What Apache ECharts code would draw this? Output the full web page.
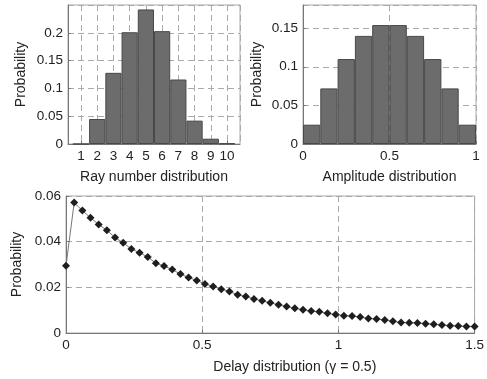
<!DOCTYPE html>
<html>
<head>
<meta charset="utf-8">
<script src="https://cdn.jsdelivr.net/npm/echarts@6/dist/echarts.min.js"></script>
<style>
  html, body { margin: 0; padding: 0; background: #fff; }
  #chart { width: 487px; height: 379px; }
</style>
</head>
<body>
<div id="chart"></div>
<script>
// ray number histogram
const rayNumbers = [1, 2, 3, 4, 5, 6, 7, 8, 9, 10]
const rayProb = [0, 0.045, 0.128, 0.201, 0.242, 0.203, 0.116, 0.042, 0.0095, 0.001]

// amplitude histogram (bin centres)
const ampBins = [0.05, 0.15, 0.25, 0.35, 0.45, 0.55, 0.65, 0.75, 0.85, 0.95]
const ampProb = [0.025, 0.072, 0.110, 0.140, 0.154, 0.154, 0.140, 0.110, 0.072, 0.025]

// delay distribution, sampled every 0.03
const delayX = [
  0, 0.03, 0.06, 0.09, 0.12, 0.15, 0.18, 0.21, 0.24, 0.27,
  0.30, 0.33, 0.36, 0.39, 0.42, 0.45, 0.48, 0.51, 0.54, 0.57,
  0.60, 0.63, 0.66, 0.69, 0.72, 0.75, 0.78, 0.81, 0.84, 0.87,
  0.90, 0.93, 0.96, 0.99, 1.02, 1.05, 1.08, 1.11, 1.14, 1.17,
  1.20, 1.23, 1.26, 1.29, 1.32, 1.35, 1.38, 1.41, 1.44, 1.47, 1.50,
]
const delayProb = [
  0.0294, 0.0571, 0.0536, 0.0505, 0.0475, 0.0450, 0.0418, 0.0395, 0.0368, 0.0352,
  0.0333, 0.0306, 0.0293, 0.0278, 0.0258, 0.0243, 0.0230, 0.0215, 0.0204, 0.0192,
  0.0182, 0.0167, 0.0160, 0.0149, 0.0141, 0.0132, 0.0124, 0.0116, 0.0108, 0.0102,
  0.0096, 0.0093, 0.0086, 0.0081, 0.0076, 0.0074, 0.0070, 0.0064, 0.0061, 0.0057,
  0.0051, 0.0046, 0.0045, 0.0044, 0.0041, 0.0038, 0.0035, 0.0032, 0.0031, 0.0029, 0.0028,
]

const font = 'Liberation Sans, Arial, sans-serif'
const textColor = '#222'
const dashed = { color: '#aaa', type: [6, 4], width: 1 }

const labelStyle = { color: textColor, fontSize: 13.5, fontFamily: font }
const nameStyle = { color: textColor, fontSize: 14, fontFamily: font }

function xAxisBase(extra) {
  return Object.assign({
    type: 'value',
    nameLocation: 'middle',
    nameTextStyle: nameStyle,
    axisLine: { show: true, lineStyle: { color: '#777' } },
    axisTick: { show: true, inside: true, length: 3, lineStyle: { color: '#777' } },
    axisLabel: Object.assign({ margin: 5 }, labelStyle),
    splitLine: { show: true, lineStyle: dashed },
  }, extra)
}

function yAxisBase(extra) {
  return Object.assign({
    type: 'value',
    name: 'Probability',
    nameLocation: 'middle',
    nameRotate: 90,
    nameTextStyle: nameStyle,
    axisLine: { show: true, lineStyle: { color: '#777' } },
    axisTick: { show: true, inside: true, length: 3, lineStyle: { color: '#777' } },
    axisLabel: Object.assign({ margin: 5 }, labelStyle),
    splitLine: { show: true, lineStyle: dashed },
  }, extra)
}

const chart = echarts.init(document.getElementById('chart'))

chart.setOption({
  animation: false,
  backgroundColor: '#fff',
  grid: [
    { left: 68, top: 5, width: 172, height: 139, show: true, borderColor: '#aaa', backgroundColor: 'transparent' },
    { left: 303, top: 5, width: 173, height: 139, show: true, borderColor: '#aaa', backgroundColor: 'transparent' },
    { left: 66, top: 196, width: 409, height: 137, show: true, borderColor: '#aaa', backgroundColor: 'transparent' },
  ],
  xAxis: [
    xAxisBase({
      gridIndex: 0, min: 0.2, max: 10.8, minInterval: 1, maxInterval: 1,
      name: 'Ray number distribution', nameGap: 26,
      axisLabel: Object.assign({ margin: 5, showMinLabel: false, showMaxLabel: false }, labelStyle),
    }),
    xAxisBase({
      gridIndex: 1, min: 0, max: 1, interval: 0.5,
      name: 'Amplitude distribution', nameGap: 26,
    }),
    xAxisBase({
      gridIndex: 2, min: 0, max: 1.5, interval: 0.5,
      name: 'Delay distribution (γ = 0.5)', nameGap: 27,
      nameTextStyle: Object.assign({ padding: [0, 0, 0, 49] }, nameStyle),
    }),
  ],
  yAxis: [
    yAxisBase({
      gridIndex: 0, min: 0, max: 0.25, interval: 0.05, nameGap: 40,
      axisLabel: Object.assign({ margin: 5, showMaxLabel: false }, labelStyle),
    }),
    yAxisBase({
      gridIndex: 1, min: 0, max: 0.18, interval: 0.05, nameGap: 39,
      axisLabel: Object.assign({ margin: 5, showMaxLabel: false }, labelStyle),
    }),
    yAxisBase({
      gridIndex: 2, min: 0, max: 0.06, interval: 0.02, nameGap: 38,
    }),
  ],
  series: [
    {
      type: 'bar',
      xAxisIndex: 0,
      yAxisIndex: 0,
      data: rayNumbers.map((n, i) => [n, rayProb[i]]),
      barWidth: 16.2,
      itemStyle: { color: '#6c6c6c', borderColor: '#484848', borderWidth: 1 },
    },
    {
      type: 'bar',
      xAxisIndex: 1,
      yAxisIndex: 1,
      data: ampBins.map((b, i) => [b, ampProb[i]]),
      barWidth: 17.3,
      itemStyle: { color: '#6c6c6c', borderColor: '#484848', borderWidth: 1 },
    },
    {
      type: 'line',
      xAxisIndex: 2,
      yAxisIndex: 2,
      data: delayX.map((x, i) => [x, delayProb[i]]),
      symbol: 'diamond',
      symbolSize: 8,
      showAllSymbol: true,
      lineStyle: { color: '#777', width: 1 },
      itemStyle: { color: '#1e1e1e' },
    },
  ],
})
</script>
</body>
</html>
